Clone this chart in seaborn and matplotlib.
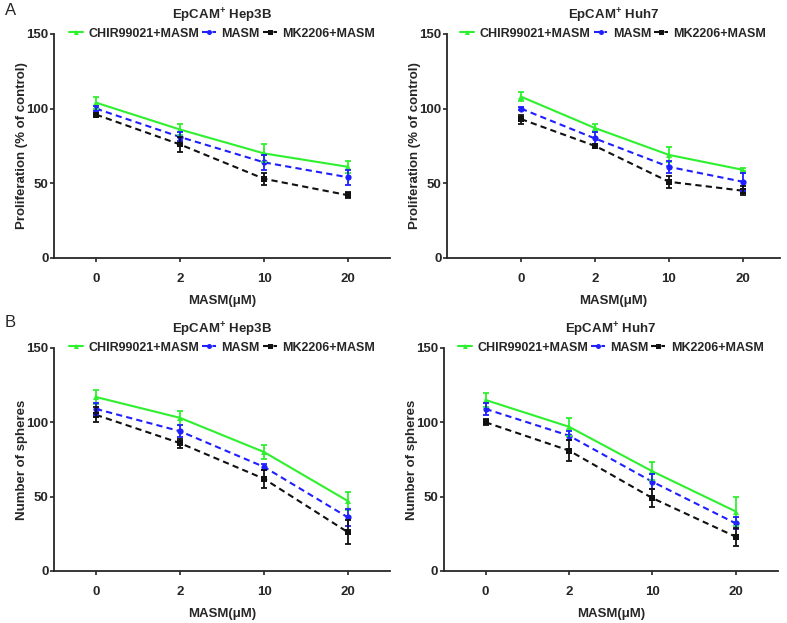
import numpy as np
import pandas as pd
import seaborn as sns
import matplotlib
matplotlib.use("Agg")
import matplotlib.pyplot as plt

# MASM doses (categorical x)
doses = ["0", "2", "10", "20"]
series = ["CHIR99021+MASM", "MASM", "MK2206+MASM"]

# A: proliferation (% of control)
hep3b_prolif = [[104, 86, 70, 61], [100, 81, 64, 54], [96, 76, 53, 42]]
hep3b_prolif_err = [[4, 3.5, 6, 4], [1.5, 3, 5, 5], [1, 5, 4, 2]]
huh7_prolif = [[108, 87, 69, 59], [100, 80, 61, 51], [93, 75, 51, 45]]
huh7_prolif_err = [[3, 3, 5, 1], [1, 4, 4, 6], [3, 1, 4, 3]]

# B: number of spheres
hep3b_spheres = [[117, 103, 80, 47], [109, 94, 70, 36], [105, 86, 62, 26]]
hep3b_spheres_err = [[5, 4.5, 4.5, 6], [4, 4, 2, 6], [5, 3, 6, 8]]
huh7_spheres = [[115, 97, 67, 40], [109, 91, 60, 32], [100, 81, 49, 23]]
huh7_spheres_err = [[5, 6, 6, 10], [4, 3, 5, 4], [2, 7, 6, 6]]

colors = {"CHIR99021+MASM": "#2ef02e", "MASM": "#1f1fff", "MK2206+MASM": "#111111"}
markers = {"CHIR99021+MASM": "^", "MASM": "o", "MK2206+MASM": "s"}
dashes = {"CHIR99021+MASM": "", "MASM": (3, 2), "MK2206+MASM": (3, 2)}

sns.set_style("ticks")
plt.rcParams['font.family'] = ['Liberation Sans', 'DejaVu Sans']
plt.rcParams['mathtext.fontset'] = 'custom'
plt.rcParams['mathtext.bf'] = 'Liberation Sans:bold'
plt.rcParams['mathtext.rm'] = 'Liberation Sans:bold'


def make_df(values):
    rows = []
    for name, vals in zip(series, values):
        for d, v in zip(doses, vals):
            rows.append({"dose": d, "value": v, "group": name})
    return pd.DataFrame(rows)


def draw_panel(ax, values, errs, title, ylabel, xlim):
    df = make_df(values)
    sns.lineplot(data=df, x="dose", y="value", hue="group", style="group",
                 palette=colors, markers=markers, dashes=dashes,
                 markersize=4.5, linewidth=1.5, markeredgewidth=0,
                 ax=ax, sort=False)
    for name, vals, err in zip(series, values, errs):
        ax.errorbar(doses, vals, yerr=err, fmt="none", ecolor=colors[name],
                    elinewidth=1.3, capsize=2.5, capthick=1.3)

    ax.set_ylim(0, 150)
    ax.set_yticks([0, 50, 100, 150])
    ax.set_xlim(*xlim)
    ax.set_title(title, fontsize=9.5, fontweight="bold", pad=10)
    ax.set_ylabel(ylabel, fontsize=9.5, fontweight="bold", labelpad=-1)
    ax.set_xlabel("MASM(μM)", fontsize=9.5, fontweight="bold", labelpad=7)
    for lab in ax.get_xticklabels() + ax.get_yticklabels():
        lab.set_fontweight("bold")
    ax.tick_params(axis="x", length=3, width=1.2, pad=8, labelsize=9.5)
    ax.tick_params(axis="y", length=3, width=1.2, pad=1, labelsize=9.5)
    for s in ["left", "bottom"]:
        ax.spines[s].set_linewidth(1.3)
    sns.despine(ax=ax)

    leg = ax.legend(loc="center", bbox_to_anchor=(0.5, 1.0), ncol=3, frameon=False,
                    handlelength=1.0, handletextpad=0.4, columnspacing=0.2,
                    borderaxespad=0, markerscale=0.8)
    for t in leg.get_texts():
        t.set_fontweight("bold")
        t.set_fontsize(9)


fig = plt.figure(figsize=(7.87, 6.23), dpi=100)
ax1 = fig.add_axes([0.0686, 0.586, 0.427, 0.3595])
ax2 = fig.add_axes([0.568, 0.586, 0.423, 0.3595])
ax3 = fig.add_axes([0.0686, 0.0835, 0.427, 0.358])
ax4 = fig.add_axes([0.564, 0.0835, 0.424, 0.358])

title_hep = r"EpCAM$^{\mathbf{+}}$ Hep3B"
title_huh = r"EpCAM$^{\mathbf{+}}$ Huh7"

draw_panel(ax1, hep3b_prolif, hep3b_prolif_err, title_hep, "Proliferation (% of control)", (-0.5, 3.5))
draw_panel(ax2, huh7_prolif, huh7_prolif_err, title_huh, "Proliferation (% of control)", (-1.0, 3.5))
draw_panel(ax3, hep3b_spheres, hep3b_spheres_err, title_hep, "Number of spheres", (-0.5, 3.5))
draw_panel(ax4, huh7_spheres, huh7_spheres_err, title_huh, "Number of spheres", (-0.5, 3.5))

fig.text(0.006, 0.983, "A", fontsize=12, va="center")
fig.text(0.006, 0.483, "B", fontsize=12, va="center")

fig.savefig("out.png", dpi=100)
